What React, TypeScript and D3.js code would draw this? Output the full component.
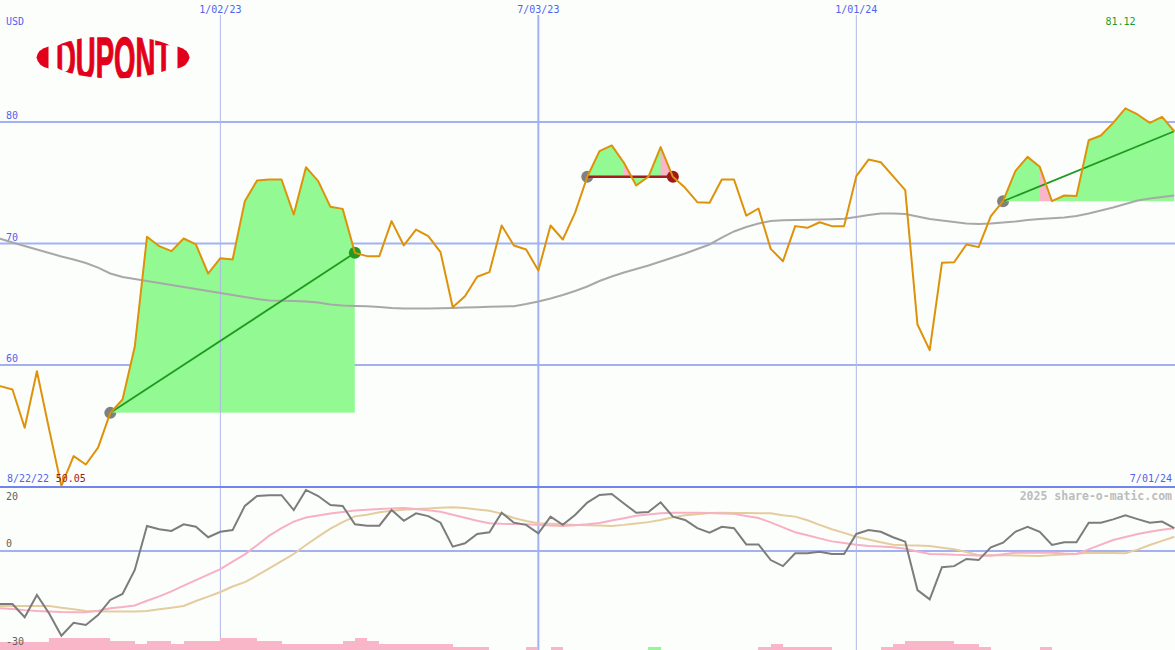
import React from 'react';
import * as d3 from 'd3';

// ---------- data ----------
const FIRST_WEEK = new Date(2022, 7, 22);
const LAST_WEEK = new Date(2024, 6, 1);

// weekly closes, USD
const closes = [
  58.0, 58.26, 57.98, 54.83, 59.49, 54.7, 50.05, 52.5, 51.81, 53.2,
  56.06, 57.16, 61.5, 70.55, 69.78, 69.37, 70.41, 69.92, 67.53, 68.79,
  68.68, 73.48, 75.19, 75.27, 75.27, 72.39, 76.28, 75.13, 73.02, 72.85,
  69.23, 68.96, 68.96, 71.84, 69.84, 71.15, 70.6, 69.29, 64.76, 65.66,
  67.26, 67.64, 71.48, 69.84, 69.51, 67.78, 71.48, 70.33, 72.52, 75.49,
  77.6, 78.07, 76.64, 74.77, 75.49, 77.93, 75.49, 74.58, 73.4, 73.35,
  75.27, 75.27, 72.3, 72.88, 69.56, 68.54, 71.43, 71.29, 71.75, 71.43,
  71.43, 75.54, 76.91, 76.69, 75.54, 74.39, 63.33, 61.22, 68.41, 68.46,
  69.92, 69.7, 72.25, 73.48, 75.95, 77.13, 76.31, 73.48, 73.95, 73.9,
  78.5, 78.89, 79.93, 81.12, 80.62, 79.93, 80.43, 79.24,
];

// long moving average
const movingAvg = [
  70.6, 70.39, 70.08, 69.79, 69.51, 69.22, 68.93, 68.68, 68.4, 68.02,
  67.53, 67.24, 67.08, 66.91, 66.75, 66.58, 66.42, 66.26, 66.09, 65.93,
  65.76, 65.6, 65.43, 65.31, 65.29, 65.27, 65.23, 65.14, 64.98, 64.9,
  64.86, 64.84, 64.77, 64.69, 64.65, 64.65, 64.65, 64.67, 64.69, 64.73,
  64.76, 64.79, 64.81, 64.84, 65.02, 65.23, 65.47, 65.76, 66.09, 66.46,
  66.91, 67.28, 67.61, 67.9, 68.19, 68.52, 68.85, 69.18, 69.55, 69.92,
  70.49, 70.99, 71.36, 71.65, 71.85, 71.92, 71.93, 71.95, 71.98, 72.0,
  72.03, 72.18, 72.35, 72.47, 72.47, 72.43, 72.22, 72.02, 71.89, 71.77,
  71.65, 71.6, 71.65, 71.73, 71.81, 71.93, 72.02, 72.08, 72.14, 72.26,
  72.47, 72.72, 72.96, 73.25, 73.54, 73.7, 73.83, 73.95,
];

// lower panel: momentum (gray)
const momentum = [
  -19.3, -19.3, -19.3, -24.1, -16, -22.7, -30.8, -26.1, -26.9, -23.3,
  -17.8, -15.6, -6.9, 9.1, 7.9, 7.3, 9.7, 8.8, 5, 7,
  7.6, 16.4, 20, 20.3, 20.3, 14.9, 22.2, 20, 16.7, 16.4,
  9.7, 9.2, 9.2, 14.9, 11, 13.7, 12.7, 10.3, 1.6, 2.8,
  6.2, 6.8, 13.9, 10.3, 9.5, 6.4, 12.5, 9.5, 13.1, 17.6,
  20.4, 20.7, 17.3, 13.9, 14.2, 17.7, 12.5, 11.3, 8.3, 6.7,
  8.8, 8.3, 2.4, 2.4, -3.3, -5.5, -0.8, -0.8, -0.3, -1.1,
  -1.1, 6.2, 7.6, 7, 5, 3.4, -14.2, -17.6, -5.9, -5.5,
  -2.9, -3.3, 1.3, 3, 7, 8.8, 7, 2.2, 3.2, 3.2,
  10.3, 10.3, 11.5, 13, 11.6, 10.3, 10.7, 8.3,
];

// lower panel: fast signal (pink)
const signalFast = [
  -20.6, -20.8, -21.1, -21.5, -21.8, -22.0, -22.2, -22.3, -22.3, -21.7,
  -20.8, -20.4, -19.8, -18.1, -16.5, -14.7, -12.6, -10.6, -8.6, -6.6,
  -3.9, -1.2, 2.1, 5.6, 8.3, 10.7, 12.2, 12.9, 13.6, 14.2,
  14.7, 15.0, 15.3, 15.5, 15.6, 15.3, 14.8, 14.3, 13.2, 12.1,
  11.0, 10.1, 9.9, 9.8, 9.7, 9.5, 9.3, 9.1, 9.4, 9.7,
  10.2, 11.1, 11.9, 12.8, 13.3, 13.7, 13.9, 13.9, 13.9, 13.8,
  13.6, 13.5, 12.7, 12.0, 10.4, 8.6, 6.8, 5.7, 4.6, 3.5,
  2.9, 2.3, 1.8, 1.6, 1.4, 0.8, -0.2, -1.1, -1.2, -1.4,
  -1.5, -1.6, -1.7, -1.2, -0.6, -0.6, -0.6, -0.6, -0.9, -1.1,
  0.6, 2.3, 4.0, 5.1, 6.2, 7.0, 7.7, 8.3,
];

// lower panel: slow signal (tan)
const signalSlow = [
  -20, -20, -20, -20, -20, -20, -20.6, -21.2, -21.8, -21.9,
  -22, -22, -22, -21.8, -21.2, -20.6, -20, -18.2, -16.6, -14.9,
  -12.9, -11.3, -8.9, -6.3, -3.7, -1.1, 2.2, 5.2, 8.1, 10.5,
  12.6, 13.2, 14.1, 14.6, 15.0, 15.3, 15.5, 15.7, 15.9, 15.6,
  15.1, 14.6, 13.6, 12.0, 10.9, 10.1, 9.9, 9.7, 9.5, 9.4,
  9.3, 9.1, 9.5, 10.0, 10.5, 11.3, 12.3, 13.0, 13.4, 13.8,
  13.9, 13.8, 13.8, 13.7, 13.7, 13.0, 12.5, 11.2, 9.5, 7.9,
  6.6, 5.2, 4.2, 3.2, 2.3, 2.1, 2.0, 1.8, 1.2, 0.6,
  -0.4, -1.5, -1.5, -1.5, -1.6, -1.7, -1.8, -1.5, -1.3, -1.0,
  -0.6, -0.7, -0.7, -0.8, 0.5, 2.2, 3.7, 5.2,
];

// histogram (negative = pink, positive = green)
const histogram = [
  -4, -4, -4, -4, -4, -6, -6, -6, -6, -6,
  -4.5, -4.5, -3, -4.5, -4.5, -3, -4.5, -4.5, -4.5, -6,
  -6, -6, -4.5, -4.5, -3, -3, -3, -3, -3, -4.5,
  -6, -4.5, -3, -3, -3, -3, -3, -3, -1.7, -1.7,
  -1.7, 0, 0, 0, -1.7, 0, -1.7, 0, 0, 0,
  0, 0, 0, 0, 1.7, 0, 0, 0, 0, 0,
  0, 0, 0, -1.7, -3, -1.7, -1.7, -1.7, -1.7, 0,
  0, 0, 0, -1.7, -3, -4.5, -4.5, -4.5, -4.5, -3,
  -3, -1.7, 0, 0, 0, 0, -1.7, 0, 0, 0,
  0, 0, 0, 0, 0, 0, 0, 0,
];

const dateTicks = [
  { date: new Date(2023, 0, 2), label: '1/02/23', strong: false },
  { date: new Date(2023, 6, 3), label: '7/03/23', strong: true },
  { date: new Date(2024, 0, 1), label: '1/01/24', strong: false },
];
const priceTicks = [80, 70, 60];
const lowerTickLabels = [
  { value: 20, label: '20' },
  { value: 0, label: '0' },
  { value: -30, label: '-30' },
];

const trades = [
  { entry: 10, exit: 30, open: false, win: true, pinkSegments: [] as number[] },
  { entry: 49, exit: 56, open: false, win: false, pinkSegments: [52, 55] },
  { entry: 83, exit: 97, open: true, win: true, pinkSegments: [86] },
];

// ---------- layout / style ----------
const W = 1175;
const H = 650;
const FONT = "'DejaVu Sans Mono', monospace";
const BLUE_TEXT = '#5262ee';
const GRID = '#a3b1f2';
const GREEN_FILL = '#93fa93';
const PINK_FILL = '#f8b6c8';
const LOGO_RED = '#e2001a';

export default function App() {
  const dates = closes.map((_, i) => d3.timeWeek.offset(FIRST_WEEK, i));
  const x = d3.scaleTime().domain([FIRST_WEEK, LAST_WEEK]).range([-12, 1174.3]);
  const y = d3.scaleLinear().domain([60, 80]).range([365, 122]);
  const yLow = d3.scaleLinear().domain([-30, 20]).range([633.5, 496]);
  const yHist = d3.scaleLinear().domain([0, 10]).range([650, 630]);

  const X = (i: number) => x(dates[i]);
  const mainLine = d3.line<number>().x((_, i) => X(i)).y((d) => y(d));
  const lowLine = d3.line<number>().x((_, i) => X(i)).y((d) => yLow(d));

  const minIdx = d3.minIndex(closes.slice(1)) + 1;
  const maxIdx = d3.maxIndex(closes);

  const sepY = y(50.05) + 1;
  const barW = X(1) - X(0);

  return (
    <svg
      width={W}
      height={H}
      style={{ position: 'absolute', left: 0, top: 0, display: 'block', background: '#fcfefc' }}
    >
      <rect x={0} y={0} width={W} height={H} fill="#fcfefc" />
      <defs>
        {trades.map((t, k) => {
          const base = y(closes[t.entry]);
          return (
            <React.Fragment key={k}>
              <clipPath id={`above${k}`}>
                <rect x={X(t.entry)} y={0} width={X(t.exit) - X(t.entry)} height={base} />
              </clipPath>
              <clipPath id={`below${k}`}>
                <rect x={X(t.entry)} y={base} width={X(t.exit) - X(t.entry)} height={H - base} />
              </clipPath>
            </React.Fragment>
          );
        })}
        <clipPath id="logoClip">
          <ellipse cx={114} cy={57} rx={66} ry={21.5} />
        </clipPath>
      </defs>

      {/* horizontal price grid */}
      {priceTicks.map((p) => (
        <g key={p}>
          <line x1={0} x2={W} y1={y(p)} y2={y(p)} stroke={GRID} strokeWidth={2} />
          <text x={6} y={y(p) - 3} fontFamily={FONT} fontSize={10} fill={BLUE_TEXT}>
            {p}
          </text>
        </g>
      ))}

      {/* lower panel zero line */}
      <line x1={0} x2={W} y1={yLow(0)} y2={yLow(0)} stroke={GRID} strokeWidth={2} />

      {/* entry dots (beneath fills) */}
      {trades.map((t, k) => (
        <circle key={k} cx={X(t.entry)} cy={y(closes[t.entry])} r={6} fill="#808080" />
      ))}

      {/* trade fills */}
      {trades.map((t, k) => {
        const base = y(closes[t.entry]);
        const idx = d3.range(t.entry, t.exit + 1);
        const area = d3
          .area<number>()
          .x((i) => X(i))
          .y0(base)
          .y1((i) => y(closes[i]));
        const poly = (i: number) =>
          `M${X(i)},${base}L${X(i)},${y(closes[i])}L${X(i + 1)},${y(closes[i + 1])}L${X(i + 1)},${base}Z`;
        return (
          <g key={k}>
            <g clipPath={`url(#above${k})`}>
              <path d={area(idx) || ''} fill={GREEN_FILL} />
              {t.pinkSegments.map((i) => (
                <path key={i} d={poly(i)} fill={PINK_FILL} />
              ))}
            </g>
            <g clipPath={`url(#below${k})`}>
              <path d={area(idx) || ''} fill={GREEN_FILL} />
            </g>
          </g>
        );
      })}

      {/* vertical date lines */}
      {dateTicks.map((d) => (
        <g key={d.label}>
          <line
            x1={x(d.date)}
            x2={x(d.date)}
            y1={15}
            y2={H}
            stroke={d.strong ? GRID : '#b0b6e6'}
            strokeWidth={d.strong ? 2 : 1}
          />
          <text
            x={x(d.date)}
            y={12.5}
            textAnchor="middle"
            fontFamily={FONT}
            fontSize={10}
            fill={BLUE_TEXT}
          >
            {d.label}
          </text>
        </g>
      ))}

      {/* moving average */}
      <path d={mainLine(movingAvg) || ''} fill="none" stroke="#a8a8a8" strokeWidth={2} />

      {/* trade lines */}
      {trades.map((t, k) => (
        <line
          key={k}
          x1={X(t.entry)}
          y1={y(closes[t.entry])}
          x2={X(t.exit)}
          y2={y(closes[t.exit])}
          stroke={t.win ? '#1f9a1f' : '#a41c1c'}
          strokeWidth={t.win ? 1.8 : 2.6}
        />
      ))}

      {/* exit dots */}
      {trades
        .filter((t) => !t.open)
        .map((t, k) => (
          <circle
            key={k}
            cx={X(t.exit)}
            cy={y(closes[t.exit])}
            r={6}
            fill={t.win ? '#229a22' : '#a01818'}
          />
        ))}

      {/* price line */}
      <path d={mainLine(closes) || ''} fill="none" stroke="#de920a" strokeWidth={2} strokeLinejoin="round" />

      {/* separator */}
      <line x1={0} x2={W} y1={sepY} y2={sepY} stroke="#7484ee" strokeWidth={2} />

      {/* histogram */}
      {histogram.map((v, i) =>
        v === 0 ? null : (
          <rect
            key={i}
            x={X(i)}
            y={yHist(Math.abs(v))}
            width={barW}
            height={H - yHist(Math.abs(v))}
            fill={v > 0 ? GREEN_FILL : PINK_FILL}
            shapeRendering="crispEdges"
          />
        )
      )}

      {/* lower lines */}
      <path d={lowLine(signalSlow) || ''} fill="none" stroke="#e4cc9e" strokeWidth={2} />
      <path d={lowLine(signalFast) || ''} fill="none" stroke="#f7b0c4" strokeWidth={2} />
      <path d={lowLine(momentum) || ''} fill="none" stroke="#7c7c7c" strokeWidth={2} />

      {/* lower labels */}
      {lowerTickLabels.map((l) => (
        <text
          key={l.label}
          x={6}
          y={l.value === 20 ? 500 : l.value === 0 ? yLow(0) - 4 : 645}
          fontFamily={FONT}
          fontSize={10}
          fill="#606060"
        >
          {l.label}
        </text>
      ))}

      {/* texts */}
      <text x={6} y={25} fontFamily={FONT} fontSize={10} fill={BLUE_TEXT}>
        USD
      </text>
      <text x={7} y={sepY - 4.5} fontFamily={FONT} fontSize={10} fill={BLUE_TEXT}>
        8/22/22
      </text>
      <text x={X(minIdx) - 5.7} y={sepY - 4.5} fontFamily={FONT} fontSize={10} fill="#a01818">
        {closes[minIdx].toFixed(2)}
      </text>
      <text x={1172} y={sepY - 4.5} textAnchor="end" fontFamily={FONT} fontSize={10} fill={BLUE_TEXT}>
        7/01/24
      </text>
      <text x={X(maxIdx) - 20} y={25} fontFamily={FONT} fontSize={10} fill="#1f9a1f">
        {closes[maxIdx].toFixed(2)}
      </text>
      <text
        x={1172}
        y={500}
        textAnchor="end"
        fontFamily={FONT}
        fontSize={11.5}
        fontWeight="bold"
        fill="#bcbcbc"
      >
        2025 share-o-matic.com
      </text>

      {/* logo */}
      <g fill={LOGO_RED}>
        <path d="M48.5,46.5 Q38,49 36.5,57.5 Q38,66 48.5,68.5 Z" />
        <path d="M177.5,46.5 Q188,49 189.5,57.5 Q188,66 177.5,68.5 Z" />
        <g clipPath="url(#logoClip)">
          <g transform="translate(56,79) scale(1,1.5)">
            <text
              x={0}
              y={0}
              fontFamily="'Liberation Sans', Arial, sans-serif"
              fontWeight="bold"
              fontSize={40}
              textLength={116}
              lengthAdjust="spacingAndGlyphs"
              stroke={LOGO_RED}
              strokeWidth={0.9}
              strokeLinejoin="miter"
            >
              DUPONT
            </text>
          </g>
        </g>
      </g>
    </svg>
  );
}
